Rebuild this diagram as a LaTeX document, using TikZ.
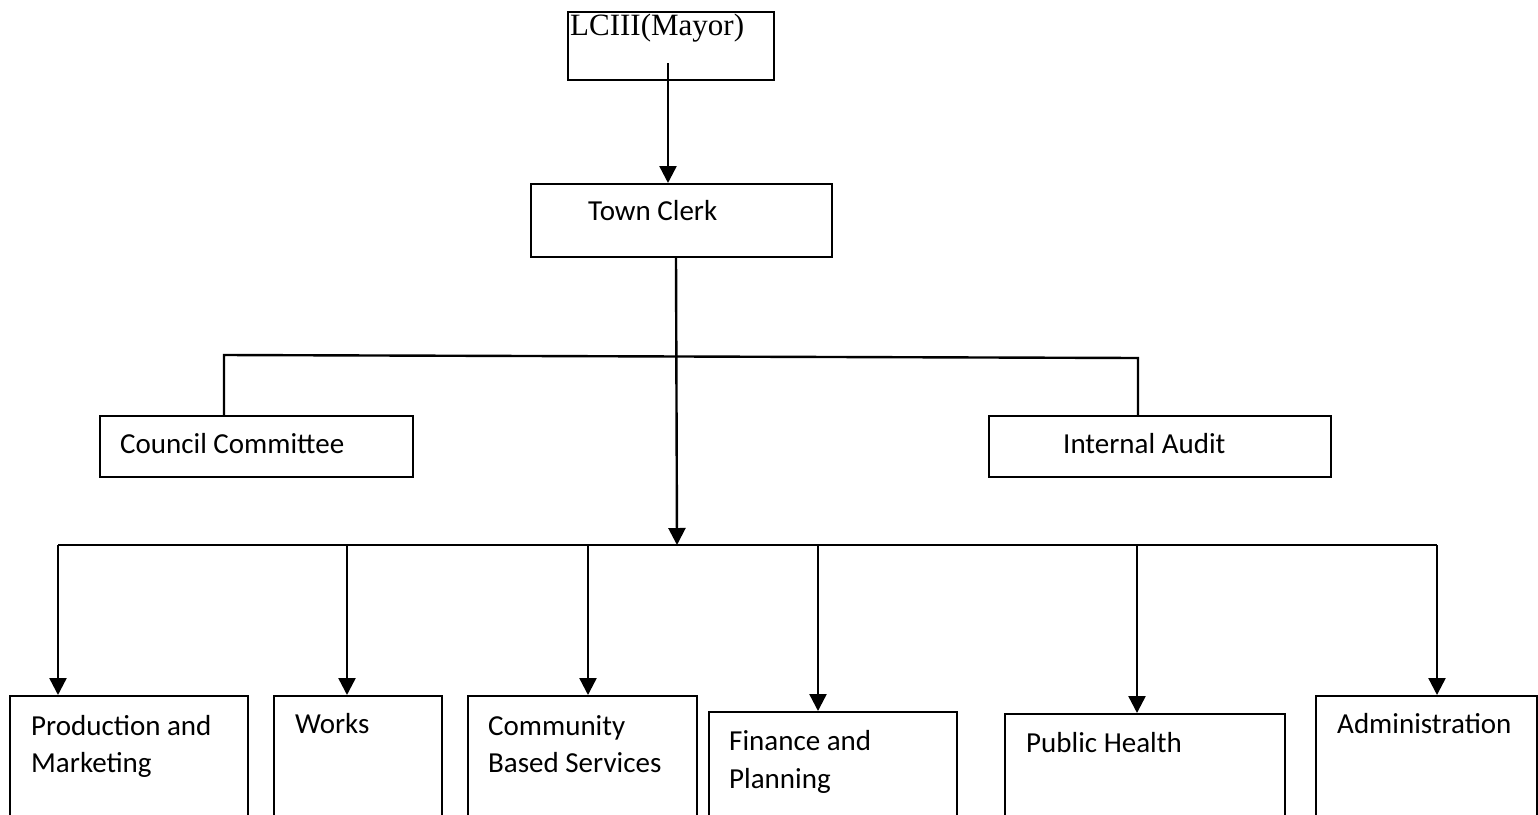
\documentclass[tikz,border=0pt]{standalone}
\usepackage{fontspec}
\newfontfamily\carl{Carlito}
\newfontfamily\tnr{Liberation Serif}
\usetikzlibrary{arrows.meta}
\begin{document}
\begin{tikzpicture}[x=1pt,y=-1pt,
  box/.style={draw=black, line width=1.8pt, fill=none, inner sep=0pt, anchor=north west},
  lbl/.style={inner sep=0pt, anchor=base west, align=left, font=\carl\fontsize{29}{37.5}\selectfont},
  conn/.style={draw=black, line width=2.4pt},
  arr/.style={conn, -{Triangle[width=17pt,length=17pt]}}]
\useasboundingbox (0,0) rectangle (1538,814);
\clip (0,0) rectangle (1538,814);
\fill[white] (0,0) rectangle (1538,814);
% top boxes
\node[box, minimum width=206pt, minimum height=68pt] (mayor) at (567,11) {};
\node[inner sep=0pt, anchor=base west, font=\tnr\fontsize{31}{36}\selectfont] (tmayor) at (570,35) {LCIII(Mayor)};
\node[box, minimum width=301pt, minimum height=73pt] (clerk) at (530,183) {};
\node[lbl] (tclerk) at (588,220) {Town Clerk};
% staff boxes
\node[box, minimum width=313pt, minimum height=61pt] (council) at (99,415) {};
\node[lbl] (tcouncil) at (120,453) {Council Committee};
\node[box, minimum width=342pt, minimum height=61pt] (audit) at (988,415) {};
\node[lbl] (taudit) at (1063,453) {Internal Audit};
% departments
\node[box, minimum width=238pt, minimum height=200pt] (prod) at (9,695) {};
\node[lbl] (tprod) at (31,772.5) {Production and\\Marketing};
\node[box, minimum width=168pt, minimum height=200pt] (works) at (273,695) {};
\node[lbl] (tworks) at (295,733) {Works};
\node[box, minimum width=229pt, minimum height=200pt] (comm) at (467,695) {};
\node[lbl] (tcomm) at (488,772.5) {Community\\Based Services};
\node[box, minimum width=248pt, minimum height=200pt] (fin) at (708,711) {};
\node[lbl] (tfin) at (729,788) {Finance and\\Planning};
\node[box, minimum width=280pt, minimum height=200pt] (health) at (1004,713) {};
\node[lbl] (thealth) at (1026,752) {Public Health};
\node[box, minimum width=221pt, minimum height=200pt] (admin) at (1315,695) {};
\node[lbl] (tadmin) at (1337,733) {Administration};
% junction coordinates
\coordinate (m1) at (668,63);
\coordinate (t1) at (676,256);
\coordinate (sl) at (224,355);
\coordinate (sr) at (1138,358);
\coordinate (b1) at (677,545);
\coordinate (dp) at (58,545);
\coordinate (dw) at (347,545);
\coordinate (dc) at (588,545);
\coordinate (df) at (818,545);
\coordinate (dh) at (1137,545);
\coordinate (da) at (1437,545);
% connectors
\draw[arr] (m1) -- (m1 |- clerk.north);
\draw[arr] (t1 |- clerk.south) -- (b1);
\draw[conn] (council.north -| sl) -- (sl) -- (sr) -- (audit.north -| sr);
\draw[conn] (dp) -- (da);
\draw[arr] (dp) -- (dp |- prod.north);
\draw[arr] (dw) -- (dw |- works.north);
\draw[arr] (dc) -- (dc |- comm.north);
\draw[arr] (df) -- (df |- fin.north);
\draw[arr] (dh) -- (dh |- health.north);
\draw[arr] (da) -- (da |- admin.north);
\end{tikzpicture}
\end{document}
